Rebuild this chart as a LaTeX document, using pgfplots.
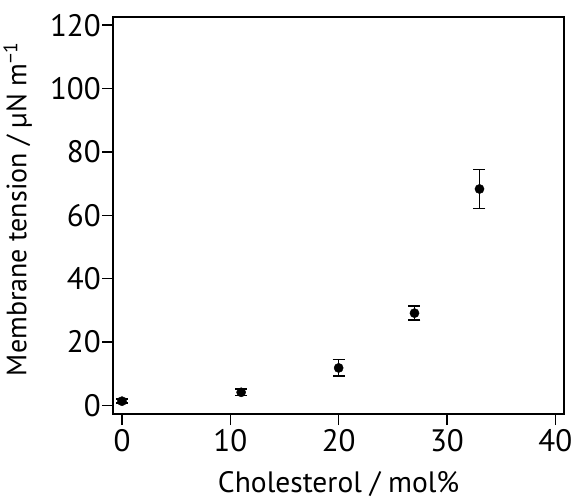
\documentclass[border=0pt]{standalone}
\usepackage{fontspec}
\setmainfont{PT Sans}
\usepackage{pgfplots}
\pgfplotsset{compat=1.18}
\begin{document}
\begin{tikzpicture}
\path[use as bounding box] (-113.3bp,-86bp) rectangle (460.7bp,414bp);
\begin{axis}[
  at={(0,0)}, anchor=south west,
  scale only axis,
  width=450.7bp, height=397.3bp,
  xmin=-0.8, xmax=40.8,
  ymin=-2.75, ymax=122.7,
  xtick={0,10,20,30,40},
  ytick={0,20,40,60,80,100,120},
  tick align=outside,
  major tick length=11bp,
  tick style={line width=1.5bp, black},
  axis line style={line width=1.7bp},
  xtick pos=bottom, ytick pos=left,
  /pgf/number format/assume math mode=true,
  tick label style={font=\fontsize{31bp}{36bp}\selectfont},
  label style={font=\fontsize{29.5bp}{34bp}\selectfont},
  xticklabel style={yshift=-1bp},
  yticklabel style={xshift=2bp},
  xlabel={Cholesterol / mol\%},
  ylabel={Membrane tension / µN m\textsuperscript{−1}},
  xlabel style={at={(axis description cs:0.5,-0.2165)}, anchor=south},
  ylabel style={at={(axis description cs:-0.2514,0.5)}, anchor=north,
    font=\fontsize{28bp}{33bp}\selectfont, xshift=6bp},
]
\addplot[only marks, mark=*, mark size=4.6bp, black,
  error bars/.cd, y dir=both, y explicit,
  error mark=-, error mark options={line width=1.6bp, mark size=6bp, rotate=90},
  error bar style={line width=1.6bp}]
  table[x=x, y=y, y error=e] {
x y e
0 1.3 0.6
11 4.1 0.95
20 11.8 2.6
27 29.1 2.2
33 68.3 6.15
};
\end{axis}
\end{tikzpicture}
\end{document}
